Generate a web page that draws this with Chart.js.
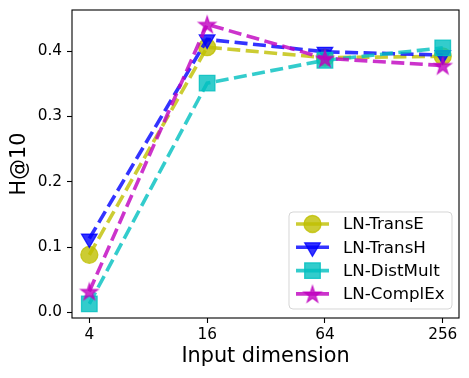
<!DOCTYPE html>
<html>
<head>
<meta charset="utf-8">
<script src="https://cdn.jsdelivr.net/npm/chart.js@4"></script>
<style>
  html, body { margin: 0; padding: 0; background: #fff; }
  #wrap { width: 469px; height: 378px; position: relative; }
</style>
</head>
<body>
<div id="wrap"><canvas id="c" width="469" height="378"></canvas></div>
<script>
/* Données : H@10 selon la dimension d'entrée */
const dims = ['4', '16', '64', '256'];
const yTicks = [0.0, 0.1, 0.2, 0.3, 0.4];
const transE   = [0.088, 0.406, 0.390, 0.392];
const transH   = [0.113, 0.418, 0.399, 0.394];
const distMult = [0.013, 0.351, 0.386, 0.405];
const complEx  = [0.032, 0.441, 0.389, 0.378];
const names = ['LN-TransE', 'LN-TransH', 'LN-DistMult', 'LN-ComplEx'];

const FONT = 'DejaVu Sans';
const COL = {
  olive: 'rgba(191,191,0,0.8)', blue: 'rgba(0,0,255,0.8)',
  cyan: 'rgba(0,191,191,0.8)', magenta: 'rgba(191,0,191,0.8)',
};

/* étoile pleine façon matplotlib '*' */
function starImage(color, r) {
  const cv = document.createElement('canvas');
  const s = Math.ceil(2 * r + 4);
  cv.width = s; cv.height = s;
  const g = cv.getContext('2d');
  const cx = s / 2, cy = s / 2 + r * 0.1, ri = r * 0.382;
  g.beginPath();
  for (let i = 0; i < 10; i++) {
    const rr = i % 2 ? ri : r;
    const a = -Math.PI / 2 + i * Math.PI / 5;
    g.lineTo(cx + rr * Math.cos(a), cy + rr * Math.sin(a));
  }
  g.closePath();
  g.fillStyle = color; g.fill();
  g.strokeStyle = color; g.lineWidth = 1.2; g.stroke();
  return cv;
}
const star = starImage(COL.magenta, 9);

const pts = arr => arr.map((v, i) => ({ x: i, y: v }));
const base = { borderWidth: 3.6, borderDash: [13, 5.5], pointBorderWidth: 1.3, tension: 0, fill: false };
const datasets = [
  Object.assign({ label: names[0], data: pts(transE), borderColor: COL.olive, pointBackgroundColor: COL.olive,
    pointBorderColor: COL.olive, pointStyle: 'circle', pointRadius: 8.5, order: 3 }, base),
  Object.assign({ label: names[1], data: pts(transH), borderColor: COL.blue, pointBackgroundColor: COL.blue,
    pointBorderColor: COL.blue, pointStyle: 'triangle', pointRotation: 180, pointRadius: 9, order: 2 }, base),
  Object.assign({ label: names[2], data: pts(distMult), borderColor: COL.cyan, pointBackgroundColor: COL.cyan,
    pointBorderColor: COL.cyan, pointStyle: 'rect', pointRadius: 11, order: 1 }, base),
  Object.assign({ label: names[3], data: pts(complEx), borderColor: COL.magenta, pointBackgroundColor: COL.magenta,
    pointBorderColor: COL.magenta, pointStyle: star, pointRadius: 9, order: 0 }, base),
];

/* cadre, titres d'axes et légende dessinés à la main (style matplotlib) */
const decor = {
  id: 'decor',
  afterDraw(chart) {
    const { ctx, chartArea: a } = chart;
    ctx.save();
    ctx.strokeStyle = '#000'; ctx.lineWidth = 1.1;
    ctx.strokeRect(a.left, a.top, a.right - a.left, a.bottom - a.top);
    ctx.fillStyle = '#000';
    ctx.font = '20.8px ' + FONT;
    ctx.textAlign = 'center'; ctx.textBaseline = 'middle';
    ctx.fillText('Input dimension', (a.left + a.right) / 2, 357);
    ctx.translate(20, (a.top + a.bottom) / 2);
    ctx.rotate(-Math.PI / 2);
    ctx.fillText('H@10', 0, 0);
    ctx.restore();

    // légende
    const lx = 289, ly = 212, lw = 163, lh = 97;
    ctx.save();
    ctx.beginPath();
    ctx.roundRect(lx, ly, lw, lh, 4);
    ctx.fillStyle = 'rgba(255,255,255,0.8)'; ctx.fill();
    ctx.strokeStyle = 'rgba(204,204,204,0.8)'; ctx.lineWidth = 1; ctx.stroke();
    datasets.forEach((ds, i) => {
      const y = 224 + i * 23.3;
      ctx.save();
      ctx.strokeStyle = ds.borderColor; ctx.lineWidth = ds.borderWidth;
      ctx.beginPath(); ctx.moveTo(296, y); ctx.lineTo(329, y); ctx.stroke();
      ctx.fillStyle = ds.pointBackgroundColor; ctx.strokeStyle = ds.pointBorderColor;
      ctx.lineWidth = ds.pointBorderWidth;
      Chart.helpers.drawPoint(ctx, { pointStyle: ds.pointStyle, rotation: ds.pointRotation || 0,
        radius: ds.pointRadius, borderWidth: ds.pointBorderWidth }, 312.5, y);
      ctx.restore();
      ctx.fillStyle = '#000'; ctx.font = '16.7px ' + FONT;
      ctx.textAlign = 'left'; ctx.textBaseline = 'middle';
      ctx.fillText(ds.label, 343, y + 1);
    });
    ctx.restore();
  },
};

const noPad = s => { s.paddingTop = 0; s.paddingBottom = 0; s.paddingLeft = 0; s.paddingRight = 0; };

new Chart(document.getElementById('c'), {
  type: 'line',
  data: { datasets },
  options: {
    responsive: false, animation: false, devicePixelRatio: 1,
    layout: { autoPadding: false, padding: { top: 10, right: 10, left: 0, bottom: 0 } },
    plugins: { legend: { display: false }, tooltip: { enabled: false } },
    scales: {
      x: {
        type: 'linear', min: -0.147, max: 3.138,
        afterBuildTicks: s => { s.ticks = dims.map((_, i) => ({ value: i })); },
        afterFit: s => { s.height = 60; noPad(s); },
        grid: { display: true, drawOnChartArea: false, tickLength: 5, color: '#000', tickWidth: 1.1 },
        border: { display: false },
        ticks: { callback: v => dims[v], color: '#000', font: { family: FONT, size: 15.3 }, padding: 3, maxRotation: 0 },
      },
      y: {
        min: -0.0087, max: 0.463,
        afterBuildTicks: s => { s.ticks = yTicks.map(v => ({ value: v })); },
        afterFit: s => { s.width = 72; noPad(s); },
        grid: { display: true, drawOnChartArea: false, tickLength: 5, color: '#000', tickWidth: 1.1 },
        border: { display: false },
        ticks: { callback: v => v.toFixed(1), color: '#000', font: { family: FONT, size: 15.3 }, padding: 5 },
      },
    },
  },
  plugins: [decor],
});
</script>
</body>
</html>
